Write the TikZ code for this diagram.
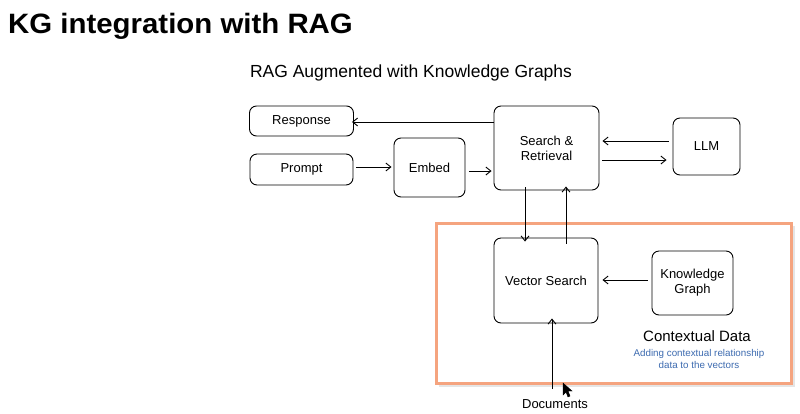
\documentclass[tikz,border=0pt]{standalone}
\usepackage{fontspec}
\setmainfont{Liberation Sans}
\usetikzlibrary{arrows.meta}
\definecolor{orangeframe}{HTML}{F5A47F}
\definecolor{bluenote}{HTML}{3D6BB0}
\tikzset{
  box/.style={draw=black, line width=0.9pt, rounded corners=7pt, fill=white, align=center, font=\fontsize{13}{15}\selectfont, inner sep=0pt},
  conn/.style={draw=black, line width=0.9pt, -{Straight Barb[length=5pt,width=8pt]}},
}
\begin{document}
\begin{tikzpicture}[x=1pt,y=-1pt]
\useasboundingbox (0,0) rectangle (800,413);
\fill[white] (0,0) rectangle (800,413);
% title
\node[anchor=base west, inner sep=0pt, xscale=1.05, font=\fontsize{28}{32}\selectfont\bfseries] (title) at (8,33) {KG integration with RAG};
\node[inner sep=0pt, font=\fontsize{17.5}{20}\selectfont] (sub) at (411,73) {RAG Augmented with Knowledge Graphs};
% contextual frame with shadow
\fill[black!10] (439,226) rectangle (795,387);
\fill[black!5] (437,224) rectangle (793,385);
\draw[orangeframe, line width=3pt, fill=white] (436,223) rectangle (791,383);
% boxes
\node[box, minimum width=104pt, minimum height=30pt] (resp) at (301.5,121) {Response};
\node[box, minimum width=103pt, minimum height=31pt] (prompt) at (301.5,169.5) {Prompt};
\node[box, minimum width=71pt, minimum height=59pt] (embed) at (429.5,167.5) {Embed};
\node[box, minimum width=105pt, minimum height=84pt] (search) at (546.5,148) {Search \&\\Retrieval};
\node[box, minimum width=67pt, minimum height=57pt] (llm) at (706.5,146.5) {LLM};
\node[box, minimum width=104pt, minimum height=85pt] (vec) at (546,280.5) {Vector Search};
\node[box, minimum width=81pt, minimum height=64pt] (kg) at (692.5,283) {Knowledge\\Graph};
% labels
\node[inner sep=0pt, font=\fontsize{15}{17}\selectfont] (ctx) at (697,336) {Contextual Data};
\node[inner sep=0pt, align=center, text=bluenote, font=\fontsize{9.8}{11.5}\selectfont] (note) at (699,359) {Adding contextual relationship\\data to the vectors};
\node[inner sep=0pt, font=\fontsize{13}{15}\selectfont] (docs) at (555,404) {Documents};
% connectors
\draw[conn] (search.west |- 0,122) -- ([xshift=-2pt]resp.east |- 0,122);
\draw[conn] ([xshift=-4pt]llm.west |- 0,141) -- ([xshift=3pt]search.east |- 0,141);
\draw[conn] ([xshift=3pt]search.east |- 0,160) -- ([xshift=-6pt]llm.west |- 0,160);
\draw[conn] ([xshift=3pt]prompt.east |- 0,167) -- ([xshift=-2pt]embed.west |- 0,167);
\draw[conn] ([xshift=4pt]embed.east |- 0,171) -- ([xshift=-2pt]search.west |- 0,171);
\draw[conn] ([yshift=3pt]search.south -| 525,0) -- ([yshift=-4pt]vec.north -| 525,0);
\draw[conn] ([yshift=-6pt]vec.north -| 566,0) -- ([yshift=4pt]search.south -| 566,0);
\draw[conn] ([xshift=-4pt]kg.west |- 0,280) -- ([xshift=4pt]vec.east |- 0,280);
\coordinate (dtop) at (552,389);
\draw[conn] (dtop) -- ([yshift=5pt]vec.south -| 552,0);
% cursor
\filldraw[black] (563,383) -- (563,395) -- (566,392) -- (568,397) -- (570,396) -- (568,391) -- (572,391) -- cycle;
\end{tikzpicture}
\end{document}
